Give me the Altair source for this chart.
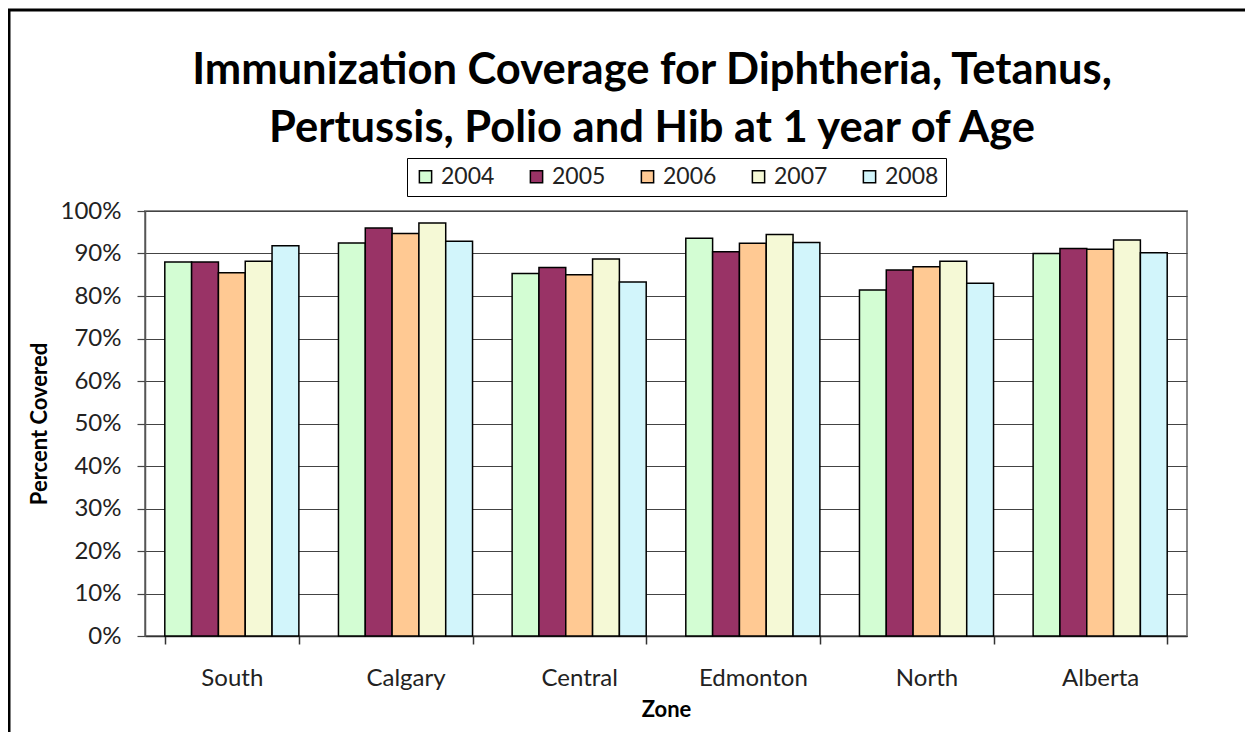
import altair as alt
import pandas as pd

zones = ["South", "Calgary", "Central", "Edmonton", "North", "Alberta"]
years = ["2004", "2005", "2006", "2007", "2008"]
v2004 = [88.0, 92.5, 85.3, 93.6, 81.4, 90.0]
v2005 = [88.0, 96.0, 86.7, 90.4, 86.1, 91.2]
v2006 = [85.5, 94.7, 85.0, 92.4, 86.9, 91.0]
v2007 = [88.2, 97.2, 88.7, 94.5, 88.2, 93.2]
v2008 = [91.8, 92.9, 83.3, 92.6, 83.0, 90.2]
colors = ["#D3FDD3", "#993366", "#FFC993", "#F5F9D6", "#D2F5FB"]

series = [v2004, v2005, v2006, v2007, v2008]
rows = []
for y, vals in zip(years, series):
    for z, v in zip(zones, vals):
        rows.append({"Zone": z, "Year": y, "Value": v / 100})
df = pd.DataFrame(rows)

FONT = "Lato"

bars = alt.Chart(df).mark_bar(stroke="black", strokeWidth=1.5).encode(
    x=alt.X("Zone:N", sort=zones,
            scale=alt.Scale(paddingInner=0.228, paddingOuter=0.114),
            axis=alt.Axis(title="Zone", labelAngle=0, tickBand="extent",
                          labelFontSize=24, labelFont=FONT, labelColor="#222",
                          labelPadding=22, titleFontSize=22, titleFont=FONT,
                          titleFontWeight="bold", titleColor="black",
                          titlePadding=9, domainColor="#333", domainWidth=1.5,
                          tickColor="#333", tickSize=8, tickWidth=1.5,
                          grid=False)),
    xOffset=alt.XOffset("Year:N", sort=years),
    y=alt.Y("Value:Q", scale=alt.Scale(domain=[0, 1]),
            axis=alt.Axis(title="Percent Covered", format=".0%",
                          values=[i / 10 for i in range(11)],
                          labelFontSize=24, labelFont=FONT, labelColor="#222",
                          labelPadding=16, titleFontSize=22, titleFont=FONT,
                          titleFontWeight="bold", titleColor="black",
                          titlePadding=9, domainColor="#555", domainWidth=1.5,
                          tickColor="#444", tickSize=8, tickWidth=1.2,
                          grid=True, gridColor="#444", gridWidth=1.2)),
    fill=alt.Fill("Year:N", sort=years,
                  scale=alt.Scale(domain=years, range=colors),
                  legend=alt.Legend(title=None, orient="none", direction="horizontal",
                                    legendX=262, legendY=-53,
                                    labelFontSize=23, labelFont=FONT, labelColor="#222",
                                    symbolType="square", symbolSize=150,
                                    symbolStrokeColor="black", symbolStrokeWidth=1.5,
                                    columnPadding=30, labelOffset=4,
                                    strokeColor="black", padding=7)),
)

frame_df = pd.DataFrame({"k": [0]})
frame_left = alt.Chart(frame_df).mark_rule(stroke="black", strokeWidth=3).encode(
    x=alt.value(-136), y=alt.value(-202), y2=alt.value(700),
)
frame_top = alt.Chart(frame_df).mark_rule(stroke="black", strokeWidth=3).encode(
    x=alt.value(-137), x2=alt.value(1200), y=alt.value(-201),
)

chart = alt.layer(bars, frame_left, frame_top).properties(
    width=1042, height=425,
    title=alt.Title(["Immunization Coverage for Diphtheria, Tetanus,",
                     "Pertussis, Polio and Hib at 1 year of Age"],
                    fontSize=43.5, font=FONT, fontWeight="bold", color="black",
                    anchor="middle", lineHeight=58, dx=-14, offset=-144),
    autosize=alt.AutoSizeParams(type="none"),
    padding={"left": 137, "top": 203, "right": 58, "bottom": 96},
).configure_view(stroke="#888", strokeWidth=2)

chart.save("out.html", embed_options={"renderer": "svg", "actions": False})
